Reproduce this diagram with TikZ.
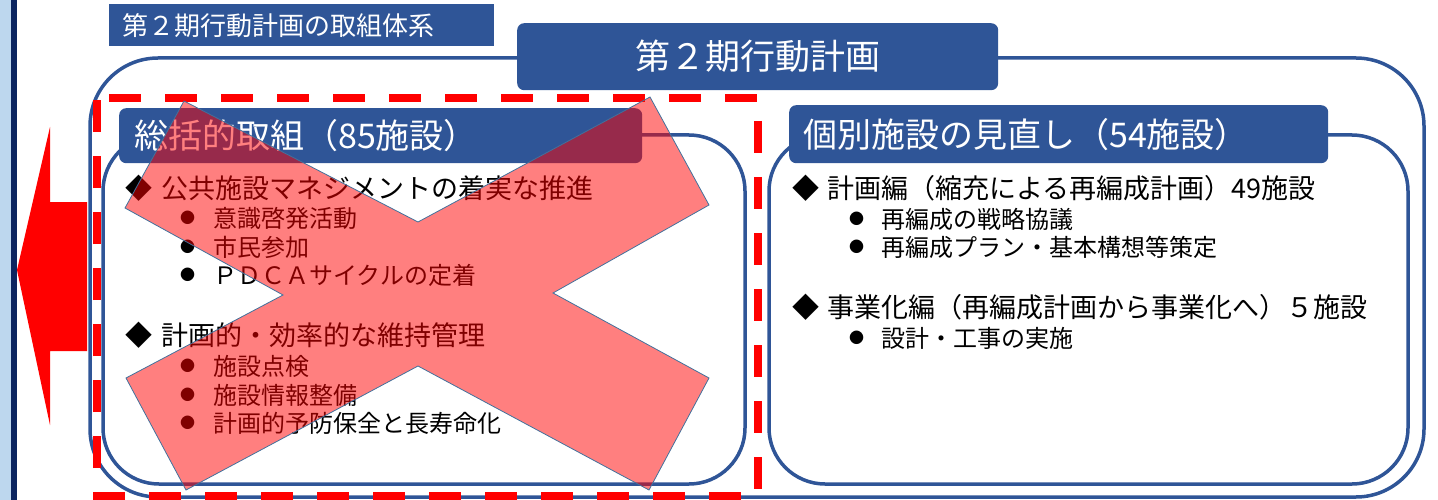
\documentclass[tikz,border=0pt]{standalone}
\usepackage{fontspec}
\setmainfont{Noto Sans CJK JP}
\definecolor{hdrblue}{HTML}{2F5597}
\definecolor{bandblue}{HTML}{BDD7EE}
\definecolor{navy}{HTML}{0B2560}
\definecolor{xedge}{HTML}{41719C}
\begin{document}
\begin{tikzpicture}[x=1pt,y=-1pt,
		hdr/.style={fill=hdrblue,text=white,rounded corners=7pt,inner ysep=0pt,align=left},
		frame/.style={draw=hdrblue,line width=3.5pt},
		item/.style={anchor=west,inner sep=0pt,font=\fontsize{27}{30}\selectfont},
		sub/.style={anchor=west,inner sep=0pt,font=\fontsize{24}{28}\selectfont},
		dot/.style={}]
		\useasboundingbox (0,0) rectangle (1438,500);
		
		% side band and arrow
		\fill[bandblue] (0,0) rectangle (11,500);
		\fill[navy] (11,0) rectangle (17,500);
		\fill[red] (17,270) -- (50,127) -- (50,202) -- (87,202) -- (87,351) -- (50,351) -- (50,425) -- cycle;
		
		% frames
		\draw[frame,rounded corners=68pt] (90,58) rectangle (1424,497);
		\draw[frame,rounded corners=56pt] (103,135) rectangle (745,484);
		\draw[frame,rounded corners=56pt] (769,135) rectangle (1408,484);
		
		% headers
		\node[fill=hdrblue,text=white,inner xsep=13pt,inner ysep=0pt,anchor=north west,
		text width=359pt,minimum height=42pt,font=\fontsize{26}{28}\selectfont] (title) at (109,4) {第２期行動計画の取組体系};
		\node[hdr,anchor=north west,minimum width=481pt,minimum height=67pt,align=center,
		font=\fontsize{35}{38}\selectfont] (plan) at (517,23) {第２期行動計画};
		\node[hdr,anchor=north west,inner xsep=15pt,text width=493pt,minimum height=55pt,
		font=\fontsize{34}{36}\selectfont] (sogo) at (119,108) {総括的取組（85施設）};
		\node[hdr,anchor=north west,inner xsep=14pt,text width=511pt,minimum height=58pt,
		font=\fontsize{34}{36}\selectfont] (kobetsu) at (789,105) {個別施設の見直し（54施設）};
		
		% left items
		\node[item] (l1)  at (125,188) {◆\hspace{9pt}公共施設マネジメントの着実な推進};
		\node[sub]  (l1a) at (180,218) {\raisebox{3.4pt}{\fontsize{15}{15}\selectfont ●}\hspace{18pt}意識啓発活動};
		\node[sub]  (l1b) at (180,247) {\raisebox{3.4pt}{\fontsize{15}{15}\selectfont ●}\hspace{18pt}市民参加};
		\node[sub]  (l1c) at (180,275) {\raisebox{3.4pt}{\fontsize{15}{15}\selectfont ●}\hspace{18pt}ＰＤＣＡサイクルの定着};
		\node[item] (l2)  at (125,335) {◆\hspace{9pt}計画的・効率的な維持管理};
		\node[sub]  (l2a) at (180,366) {\raisebox{3.4pt}{\fontsize{15}{15}\selectfont ●}\hspace{18pt}施設点検};
		\node[sub]  (l2b) at (180,395) {\raisebox{3.4pt}{\fontsize{15}{15}\selectfont ●}\hspace{18pt}施設情報整備};
		\node[sub]  (l2c) at (180,423) {\raisebox{3.4pt}{\fontsize{15}{15}\selectfont ●}\hspace{18pt}計画的予防保全と長寿命化};
		
		% right items
		\node[item] (r1)  at (792,188) {◆\hspace{8pt}計画編（縮充による再編成計画）49施設};
		\node[sub]  (r1a) at (849,219) {\raisebox{3.4pt}{\fontsize{15}{15}\selectfont ●}\hspace{17pt}再編成の戦略協議};
		\node[sub]  (r1b) at (849,247) {\raisebox{3.4pt}{\fontsize{15}{15}\selectfont ●}\hspace{17pt}再編成プラン・基本構想等策定};
		\node[item] (r2)  at (792,307) {◆\hspace{8pt}事業化編（再編成計画から事業化へ）５施設};
		\node[sub]  (r2a) at (849,338) {\raisebox{3.4pt}{\fontsize{15}{15}\selectfont ●}\hspace{17pt}設計・工事の実施};
		
		% struck out part
		\draw[red,line width=8pt,dash pattern=on 32pt off 24pt,dash phase=44pt]
		(97,98) -- (758,98) -- (758,496) -- (97,496) -- cycle;
		\filldraw[fill=red,fill opacity=0.5,draw=xedge,line width=0.8pt]
		(184,101) -- (418,222) -- (650,97) -- (709,205) -- (553,293) -- (709,378)
		-- (649,490) -- (418,366) -- (186,490) -- (126,378) -- (283,295) -- (125,208) -- cycle;
\end{tikzpicture}
\end{document}
